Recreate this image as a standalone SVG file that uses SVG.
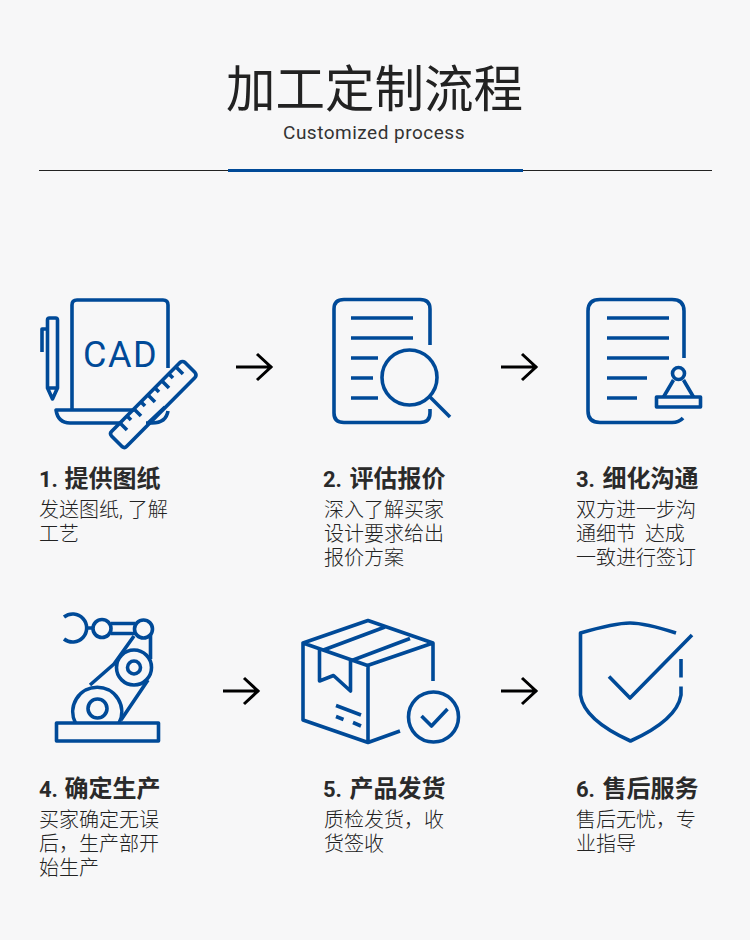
<svg xmlns="http://www.w3.org/2000/svg" width="750" height="940" viewBox="0 0 750 940">
<style>
.i{fill:none;stroke:#004a98;stroke-width:3.600;stroke-linejoin:round}
.a{fill:none;stroke:#000;stroke-width:3}
.t{font-family:"Noto Sans CJK SC","Noto Sans",sans-serif;fill:#222}
.h{font-family:"Roboto","Noto Sans CJK SC",sans-serif;font-size:22px;font-weight:700;fill:#2a2a2a}
.h tspan{font-family:"Noto Sans CJK SC",sans-serif;font-size:24px}
.b{font-family:"Roboto","Noto Sans CJK SC",sans-serif;font-size:20px;font-weight:300;fill:#222}
</style>
<rect width="750" height="940" fill="#f7f7f8"/>
<g id="header">
<text class="t" x="374.500" y="107" font-size="49.500" text-anchor="middle" font-weight="400">加工定制流程</text>
<text x="374" y="139" font-family="Roboto,sans-serif" font-size="19" letter-spacing="0.500" fill="#333" text-anchor="middle">Customized process</text>
<rect x="39" y="170" width="673" height="1" fill="#222"/>
<rect x="228" y="169" width="295" height="3" fill="#004a98"/>
</g>
<g id="connectors">
<path class="a" d="M236 367H272M257 354L271 367L257 380"/>
<path class="a" d="M501 367H537M522 354L536 367L522 380"/>
<path class="a" d="M223 691H259M244 678L258 691L244 704"/>
<path class="a" d="M501 691H537M522 678L536 691L522 704"/>
</g>
<g id="node1">
<path class="i" d="M72 410V305Q72 300 77 300H163Q168 300 168 305V368"/>
<path class="i" d="M47.500 320Q47.500 318 49.500 318H55.500Q57.500 318 57.500 320V388L52.500 399L47.500 388ZM47.500 329H42V352M47.500 388H57.500"/>
<path class="i" d="M120 423H70Q58 423 56 410H134M168 411Q166 423 152 423H146M165 407L148 423"/>
<path class="i" d="M111.500 431.500L180 362.500Q182.500 360.500 185 362.500L195 372.500Q197 375 195 377.500L126.500 446.500Q124.500 448.500 122 446.500L111.500 436Q109.500 433.500 111.500 431.500Z"/>
<path class="i" d="M176 367L183 374M169 374L173 378M162 381L169 388M155 388L159 392M148 395L155 402M141 402L145 406M134 409L141 416M127 416L131 420M120 423L127 430"/>
<text x="83" y="367" font-family="Roboto,sans-serif" font-size="36" letter-spacing="1.500" fill="#004a98">CAD</text>
<text class="h" x="39" y="487">1. <tspan dx="1">提供图纸</tspan></text>
<text class="b" x="39" y="517">发送图纸, 了解</text>
<text class="b" x="39" y="541">工艺</text>
</g>
<g id="node2">
<path class="i" d="M430 345V309Q430 299.500 420 299.500H344Q334 299.500 334 309V413Q334 422.500 344 422.500H420Q430 422.500 430 413V409"/>
<path class="i" d="M351 318H413M351 338H413M351 358H378M351 378H373M351 398H378"/>
<circle class="i" cx="409.500" cy="377.500" r="27.500"/>
<path class="i" d="M430 397L450 417"/>
<text class="h" x="323" y="487">2. <tspan dx="2">评估报价</tspan></text>
<text class="b" x="324" y="517">深入了解买家</text>
<text class="b" x="324" y="541">设计要求给出</text>
<text class="b" x="324" y="565">报价方案</text>
</g>
<g id="node3">
<path class="i" d="M684 358V311Q684 299.500 672 299.500H600Q588 299.500 588 311V411Q588 422.500 600 422.500H672Q679 422.500 683 418"/>
<path class="i" d="M607 318H669M607 338H669M607 358H669M607 378H647M607 398H637"/>
<circle class="i" cx="678.500" cy="373.500" r="6"/>
<path class="i" d="M673.500 380L663.500 397M683.500 380L693.500 397"/>
<rect class="i" x="656.500" y="397" width="44" height="10"/>
<text class="h" x="576" y="487">3. <tspan dx="2">细化沟通</tspan></text>
<text class="b" x="576" y="517">双方进一步沟</text>
<text class="b" x="576" y="541">通细节 <tspan dx="4">达成</tspan></text>
<text class="b" x="576" y="565">一致进行签订</text>
</g>
<g id="node4">
<rect class="i" x="56.500" y="723" width="102" height="18"/>
<path class="i" d="M75.500 723A24.500 24.500 0 1 1 119 723"/>
<circle class="i" cx="97.500" cy="708.500" r="9.500"/>
<circle class="i" cx="134" cy="667.500" r="17.500"/>
<circle class="i" cx="134" cy="667.500" r="6.500"/>
<circle class="i" cx="143.500" cy="629" r="9"/>
<circle class="i" cx="102" cy="628.500" r="9"/>
<path class="i" d="M111 623.500H135M111 633.500H135M64 617A14 14 0 1 1 64 639M86.500 628H93"/>
<path class="i" d="M134 636L114 664L90 685M150.500 634V659M148 680L121 720"/>
<text class="h" x="39" y="797">4. <tspan dx="1">确定生产</tspan></text>
<text class="b" x="39" y="827">买家确定无误</text>
<text class="b" x="39" y="851">后，生产部开</text>
<text class="b" x="39" y="875">始生产</text>
</g>
<g id="node5">
<path class="i" d="M368 620.500L303 643L367.500 665.500L433 643ZM303 643V720L368 742.500V665.500M433 643V681M368 742.500L400 731"/>
<path class="i" d="M323.500 650L385 627M350.500 661L410 638.500M319.500 650V681L333.500 675.500L350.500 691V661"/>
<path class="i" d="M336 705.500L361 715M336 716.500L343.500 719.500M353 722.500L361 726"/>
<circle class="i" cx="433.500" cy="717" r="25"/>
<path class="i" d="M421.500 716L431.500 726L447.500 709"/>
<text class="h" x="323" y="797">5. <tspan dx="2">产品发货</tspan></text>
<text class="b" x="324" y="827">质检发货，收</text>
<text class="b" x="324" y="851">货签收</text>
</g>
<g id="node6">
<path class="i" d="M676 633Q645 623 630 623Q615 623 580.500 633V695Q584 720 630.500 741Q677 720 681 695V686.500M681 659V677.500"/>
<path class="i" d="M609 676.500L630 698L692 635"/>
<text class="h" x="576" y="797">6. <tspan dx="2">售后服务</tspan></text>
<text class="b" x="576" y="827">售后无忧，专</text>
<text class="b" x="576" y="851">业指导</text>
</g>
</svg>
